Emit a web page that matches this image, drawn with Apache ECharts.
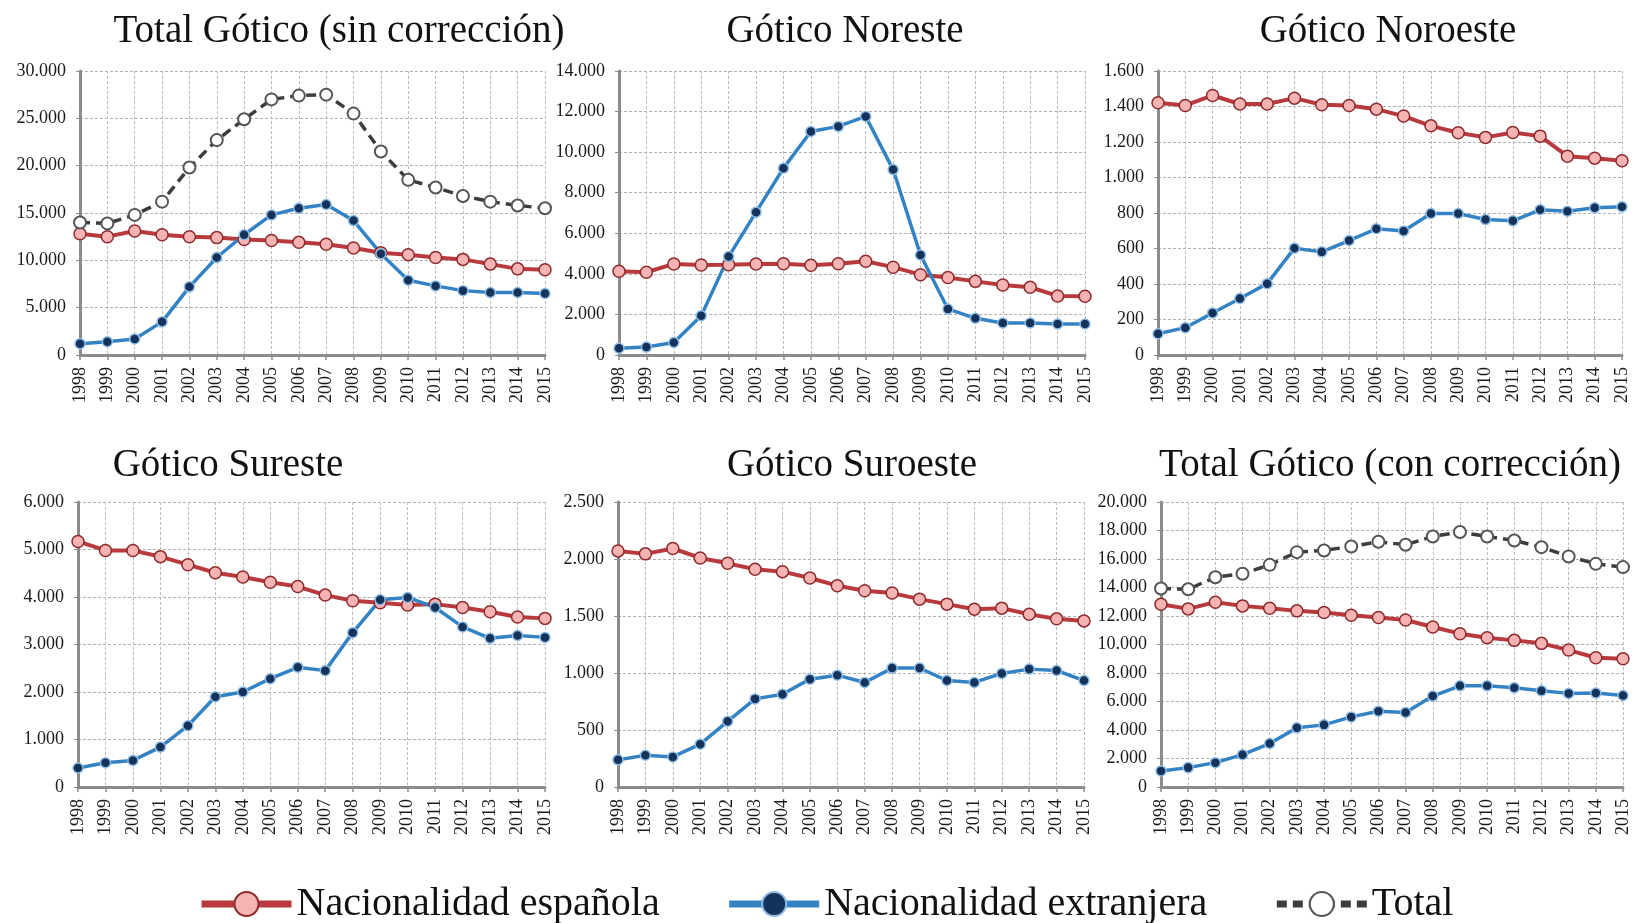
<!DOCTYPE html>
<html>
<head>
<meta charset="utf-8">
<script src="https://cdn.jsdelivr.net/npm/echarts@6/dist/echarts.min.js"></script>
<style>
  html, body { margin: 0; padding: 0; background: #fff; }
  #main { width: 1634px; height: 923px; }
</style>
</head>
<body>
<div id="main"></div>
<script>
var years = ['1998', '1999', '2000', '2001', '2002', '2003', '2004', '2005', '2006', '2007', '2008', '2009', '2010', '2011', '2012', '2013', '2014', '2015'];

// Total Gótico (sin corrección)
var espSin = [12800, 12500, 13100, 12700, 12500, 12400, 12200, 12100, 11900, 11700, 11300, 10800, 10600, 10300, 10100, 9600, 9100, 9000];
var extSin = [1200, 1400, 1700, 3500, 7200, 10300, 12700, 14800, 15500, 15900, 14200, 10700, 7900, 7300, 6800, 6600, 6600, 6500];
var totSin = [14000, 13900, 14800, 16200, 19800, 22700, 24900, 27000, 27400, 27500, 25500, 21500, 18500, 17700, 16800, 16200, 15800, 15500];

// Gótico Noreste
var espNE = [4130, 4080, 4490, 4440, 4450, 4490, 4500, 4420, 4500, 4620, 4330, 3960, 3820, 3630, 3450, 3340, 2910, 2900];
var extNE = [330, 390, 620, 1940, 4850, 7040, 9210, 11020, 11270, 11760, 9140, 4930, 2270, 1810, 1580, 1580, 1530, 1530];

// Gótico Noroeste
var espNO = [1421, 1406, 1462, 1414, 1414, 1447, 1410, 1406, 1385, 1346, 1291, 1252, 1226, 1254, 1233, 1120, 1109, 1094];
var extNO = [120, 154, 237, 318, 402, 602, 581, 645, 711, 699, 797, 797, 763, 756, 818, 810, 829, 835];

// Gótico Sureste
var espSE = [5170, 4980, 4980, 4850, 4680, 4510, 4420, 4310, 4220, 4040, 3920, 3880, 3830, 3850, 3780, 3690, 3580, 3550];
var extSE = [400, 510, 560, 840, 1290, 1900, 2000, 2280, 2520, 2450, 3250, 3940, 3990, 3780, 3370, 3130, 3190, 3150];

// Gótico Suroeste
var espSO = [2071, 2045, 2092, 2009, 1962, 1910, 1889, 1833, 1766, 1721, 1701, 1648, 1604, 1560, 1569, 1516, 1475, 1457];
var extSO = [238, 279, 264, 376, 576, 773, 814, 946, 981, 917, 1043, 1043, 934, 917, 996, 1034, 1022, 934];

// Total Gótico (con corrección)
var espCon = [12830, 12500, 12970, 12710, 12540, 12360, 12240, 12050, 11890, 11720, 11230, 10760, 10480, 10290, 10080, 9610, 9070, 9000];
var extCon = [1130, 1360, 1710, 2270, 3050, 4150, 4360, 4920, 5320, 5230, 6380, 7100, 7100, 6960, 6750, 6570, 6590, 6420];
var totCon = [13930, 13880, 14720, 14960, 15590, 16480, 16600, 16880, 17210, 17000, 17580, 17890, 17580, 17300, 16830, 16180, 15660, 15430];

var panelTitles = ['Total Gótico (sin corrección)', 'Gótico Noreste', 'Gótico Noroeste', 'Gótico Sureste', 'Gótico Suroeste', 'Total Gótico (con corrección)'];
var yMax = [30000, 14000, 1600, 6000, 2500, 20000];
var yStep = [5000, 2000, 200, 1000, 500, 2000];

var serif = 'Liberation Serif';

// layout of the six plot areas
var grids = [
    { left: 80, top: 71, width: 465, height: 284 },
    { left: 619, top: 71, width: 466, height: 284 },
    { left: 1158, top: 71, width: 464, height: 284 },
    { left: 78, top: 502, width: 467, height: 285 },
    { left: 618, top: 502, width: 466, height: 285 },
    { left: 1161, top: 502, width: 462, height: 285 }
];
var titlePos = [[339, 12], [845, 12], [1388, 12], [228, 446], [852, 446], [1390, 446]];

function fmt(v) {
    return String(v).replace(/\B(?=(\d{3})+(?!\d))/g, '.');
}

var xAxes = [], yAxes = [], titles = [], series = [];

for (var i = 0; i < 6; i++) {
    titles.push({
        text: panelTitles[i],
        left: titlePos[i][0],
        top: titlePos[i][1],
        textAlign: 'center',
        padding: 0,
        textStyle: { fontFamily: serif, fontSize: 39, fontWeight: 'normal', color: '#111' }
    });
    xAxes.push({
        type: 'category',
        gridIndex: i,
        data: years,
        boundaryGap: false,
        axisLine: { lineStyle: { color: '#8c8c8c', width: 3 } },
        axisTick: { show: true, length: 5, lineStyle: { color: '#8c8c8c', width: 1.5 } },
        axisLabel: { rotate: 90, margin: 12, fontFamily: serif, fontSize: 18, color: '#1a1a1a' },
        splitLine: { show: true, lineStyle: { color: '#bcbcbc', type: [3, 2], width: 1 } }
    });
    yAxes.push({
        type: 'value',
        gridIndex: i,
        min: 0,
        max: yMax[i],
        interval: yStep[i],
        axisLine: { show: true, lineStyle: { color: '#8c8c8c', width: 3 } },
        axisTick: { show: true, length: 4, lineStyle: { color: '#8c8c8c' } },
        axisLabel: { margin: 14, fontFamily: serif, fontSize: 18, color: '#1a1a1a', formatter: fmt },
        splitLine: { show: true, lineStyle: { color: '#b0b0b0', type: [3, 2], width: 1 } }
    });
}

function espSeries(idx, data) {
    return {
        name: 'Nacionalidad española', type: 'line', xAxisIndex: idx, yAxisIndex: idx,
        data: data, symbol: 'circle', symbolSize: 12,
        lineStyle: { color: '#b93a3c', width: 4 },
        itemStyle: { color: '#f6b3b3', borderColor: '#8e2a2c', borderWidth: 1.5 }
    };
}

function extSeries(idx, data) {
    return {
        name: 'Nacionalidad extranjera', type: 'line', xAxisIndex: idx, yAxisIndex: idx,
        data: data, symbol: 'circle', symbolSize: 10,
        lineStyle: { color: '#3383c4', width: 3.5 },
        itemStyle: { color: '#15325a', borderColor: '#8dbde6', borderWidth: 1.5 }
    };
}

function totSeries(idx, data) {
    return {
        name: 'Total', type: 'line', xAxisIndex: idx, yAxisIndex: idx,
        data: data, symbol: 'emptyCircle', symbolSize: 12,
        lineStyle: { color: '#3d3d3d', width: 3.5, type: [10, 6] },
        itemStyle: { color: '#555', borderColor: '#555', borderWidth: 1.5 }
    };
}

series.push(espSeries(0, espSin), extSeries(0, extSin), totSeries(0, totSin));
series.push(espSeries(1, espNE), extSeries(1, extNE));
series.push(espSeries(2, espNO), extSeries(2, extNO));
series.push(espSeries(3, espSE), extSeries(3, extSE));
series.push(espSeries(4, espSO), extSeries(4, extSO));
series.push(espSeries(5, espCon), extSeries(5, extCon), totSeries(5, totCon));

var myChart = echarts.init(document.getElementById('main'));

var option = {
    backgroundColor: '#fff',
    animation: false,
    title: titles,
    grid: grids,
    xAxis: xAxes,
    yAxis: yAxes,
    legend: {
        data: ['Nacionalidad española', 'Nacionalidad extranjera', 'Total'],
        left: 193,
        top: 879,
        itemWidth: 90,
        itemHeight: 30,
        itemGap: 66,
        lineStyle: { width: 7 },
        textStyle: { fontFamily: serif, fontSize: 40, color: '#111' }
    },
    series: series
};

myChart.setOption(option);
</script>
</body>
</html>
